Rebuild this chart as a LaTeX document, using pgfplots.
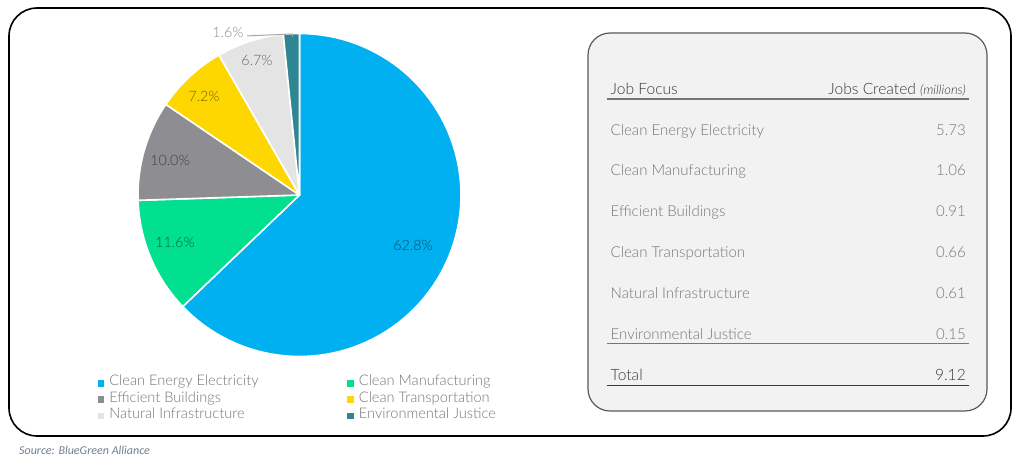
\documentclass[border=0pt]{standalone}
\usepackage{fontspec}
\IfFontExistsTF{Lato Light}{%
  \IfFontExistsTF{Lato Light Italic}%
    {\setmainfont{Lato Light}[ItalicFont={Lato Light Italic}]}%
    {\setmainfont{Lato Light}[ItalicFont={Lato Italic}]}}%
  {\setmainfont{Lato}}
\newfontfamily\srcfont{Carlito}
\usepackage{pgfplots}
\pgfplotsset{compat=1.18}

\definecolor{cBlue}{HTML}{00B0F0}
\definecolor{cGreen}{HTML}{00E08E}
\definecolor{cGray}{HTML}{8E8E92}
\definecolor{cYellow}{HTML}{FFD700}
\definecolor{cLight}{HTML}{E4E4E4}
\definecolor{cTeal}{HTML}{2E8692}
\definecolor{boxbg}{HTML}{F2F2F2}
\definecolor{boxline}{HTML}{5A5A5A}
\definecolor{txtlight}{HTML}{767676}
\definecolor{txtdark}{HTML}{3A3A3A}
\definecolor{srccol}{HTML}{738091}

% shares of jobs created (%), clockwise from 12 o'clock
\def\sA{62.8}\def\sB{11.6}\def\sC{10.0}\def\sD{7.2}\def\sE{6.7}\def\sF{1.6}
\pgfmathsetmacro\tot{\sA+\sB+\sC+\sD+\sE+\sF}
\pgfmathsetmacro\kA{90}
\pgfmathsetmacro\kB{\kA-\sA/\tot*360}
\pgfmathsetmacro\kC{\kB-\sB/\tot*360}
\pgfmathsetmacro\kD{\kC-\sC/\tot*360}
\pgfmathsetmacro\kE{\kD-\sD/\tot*360}
\pgfmathsetmacro\kF{\kE-\sE/\tot*360}
\pgfmathsetmacro\kG{\kF-\sF/\tot*360}

\pgfplotsset{
  wedge/.style={draw=white, line width=1.6pt, line join=round,
    samples=90, variable=\t},
}
\tikzset{plabel/.style={font=\fontsize{14.3}{16}\selectfont, text=black, text opacity=0.55}}

\begin{document}
\begin{tikzpicture}[x=1pt,y=1pt]
  \fill[white] (0,0) rectangle (1024,-460);
  \draw[line width=1.6pt, rounded corners=28pt] (9,-8) rectangle (1011,-436);

  \begin{axis}[
      at={(299.5pt,-195pt)}, anchor=center,
      width=323pt, height=323pt, scale only axis,
      xmin=-1, xmax=1, ymin=-1, ymax=1,
      hide axis, clip=false,
      legend columns=2,
      legend cell align=left,
      legend style={draw=none, fill=none,
        at={(axis description cs:-0.1254,-0.0572)}, anchor=north west,
        inner sep=0pt, row sep=0pt, column sep=0pt,
        font=\fontsize{14.6}{16}\selectfont, text=txtlight,
        nodes={inner sep=0pt, text height=10.6pt, text depth=5.7pt}},
      legend image code/.code={
        \fill[#1, draw=none] (0pt,-3.2pt) rectangle (6.5pt,3.3pt);
        \path[draw=none, fill=none] (0pt,0pt) rectangle (11.6pt,0.1pt);},
    ]
    \addplot[wedge, fill=cBlue, domain=\kB:\kA] ({cos(\t)},{sin(\t)}) -- (axis cs:0,0) -- cycle;
    \addlegendentry{\makebox[238pt][l]{Clean Energy Electricity}}
    \addplot[wedge, fill=cGreen, domain=\kC:\kB] ({cos(\t)},{sin(\t)}) -- (axis cs:0,0) -- cycle;
    \addlegendentry{Clean Manufacturing}
    \addplot[wedge, fill=cGray, domain=\kD:\kC] ({cos(\t)},{sin(\t)}) -- (axis cs:0,0) -- cycle;
    \addlegendentry{\makebox[238pt][l]{Efficient Buildings}}
    \addplot[wedge, fill=cYellow, domain=\kE:\kD] ({cos(\t)},{sin(\t)}) -- (axis cs:0,0) -- cycle;
    \addlegendentry{Clean Transportation}
    \addplot[wedge, fill=cLight, domain=\kF:\kE] ({cos(\t)},{sin(\t)}) -- (axis cs:0,0) -- cycle;
    \addlegendentry{\makebox[238pt][l]{Natural Infrastructure}}
    \addplot[wedge, fill=cTeal, domain=\kG:\kF] ({cos(\t)},{sin(\t)}) -- (axis cs:0,0) -- cycle;
    \addlegendentry{Environmental Justice}

    \node[plabel] at (axis cs:0.703,-0.310) {62.8\%};
    \node[plabel] at (axis cs:-0.771,-0.291) {11.6\%};
    \node[plabel] at (axis cs:-0.802,0.217) {10.0\%};
    \node[plabel] at (axis cs:-0.591,0.613) {7.2\%};
    \node[plabel] at (axis cs:-0.263,0.836) {6.7\%};
    \node[plabel, text opacity=0.45] at (axis cs:-0.443,1.009) {1.6\%};
    \draw[black!35, line width=1pt] (axis cs:-0.325,0.985) -- (axis cs:-0.046,0.997) -- (axis cs:-0.043,0.980);
  \end{axis}

  % table panel
  \draw[fill=boxbg, draw=boxline, line width=1.2pt, rounded corners=22pt] (588,-33) rectangle (987,-411);
  \begin{scope}[every node/.style={inner sep=0pt, font=\fontsize{15}{18}\selectfont}]
    \node[anchor=base west, text=txtdark, font=\fontsize{15.6}{18}\selectfont] at (610.5,-94.5) {Job Focus};
    \node[anchor=base east, text=txtdark, font=\fontsize{15.6}{18}\selectfont] at (966,-94.5) {Jobs Created {\fontsize{13}{14}\selectfont\itshape(millions)}};
    \draw[txtlight, line width=1.3pt] (607,-99) -- (969,-99);
    \foreach \lab/\val/\y in {Clean Energy Electricity/5.73/135.5,
                              Clean Manufacturing/1.06/175.5,
                              Efficient Buildings/0.91/216.5,
                              Clean Transportation/0.66/257.5,
                              Natural Infrastructure/0.61/298.5,
                              Environmental Justice/0.15/339.0}{
      \node[anchor=base west, text=txtlight] at (610.5,-\y) {\lab};
      \node[anchor=base east, text=txtlight] at (966,-\y) {\val};
    }
    \draw[txtlight, line width=1pt] (607,-343.5) -- (969,-343.5);
    \node[anchor=base west, text=txtdark, font=\fontsize{15.6}{18}\selectfont] at (610.5,-380.5) {Total};
    \node[anchor=base east, text=txtdark, font=\fontsize{15.6}{18}\selectfont] at (966,-380.5) {9.12};
    \draw[txtdark, line width=1.4pt] (607,-385.5) -- (969,-385.5);
  \end{scope}

  \node[anchor=base west, inner sep=0pt, text=srccol, font=\srcfont\itshape\fontsize{12}{14}\selectfont] at (19,-454) {Source: BlueGreen Alliance};
\end{tikzpicture}
\end{document}
